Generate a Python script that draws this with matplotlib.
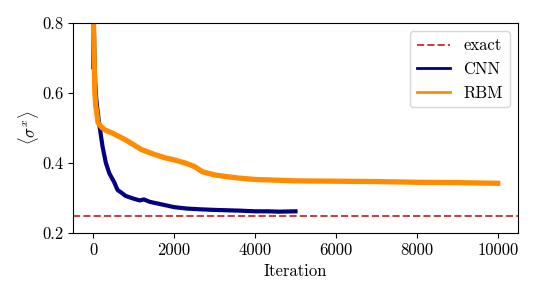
import matplotlib
matplotlib.use("Agg")
import matplotlib.pyplot as plt
from matplotlib.lines import Line2D

plt.rcParams['font.family'] = 'serif'
plt.rcParams['font.serif'] = ['cmr10']
plt.rcParams['mathtext.fontset'] = 'cm'
plt.rcParams['axes.formatter.use_mathtext'] = True
plt.rcParams['font.size'] = 12

exact_value = 0.2486

cnn_iter = [0, 5, 15, 30, 50, 70, 100, 150, 230, 313, 400, 519, 600, 700, 800, 1000, 1150, 1250, 1400, 1600, 1800, 2000, 2300, 2600, 3000, 3300, 3600, 4000, 4300, 4600, 5000]
cnn_val = [0.674, 0.86, 0.80, 0.70, 0.63, 0.59, 0.555, 0.51, 0.447, 0.40, 0.37, 0.345, 0.323, 0.315, 0.306, 0.298, 0.293, 0.296, 0.289, 0.284, 0.279, 0.274, 0.270, 0.268, 0.266, 0.265, 0.264, 0.262, 0.262, 0.261, 0.262]

rbm_iter = [0, 10, 25, 40, 60, 90, 120, 200, 300, 500, 800, 1000, 1200, 1500, 1800, 2000, 2300, 2500, 2700, 3000, 3300, 3600, 4000, 4500, 5000, 6000, 7000, 8000, 9000, 10000]
rbm_val = [0.95, 0.78, 0.68, 0.60, 0.565, 0.54, 0.515, 0.503, 0.494, 0.484, 0.466, 0.452, 0.438, 0.425, 0.414, 0.409, 0.399, 0.39, 0.375, 0.366, 0.361, 0.357, 0.353, 0.351, 0.349, 0.348, 0.347, 0.345, 0.344, 0.342]

fig = plt.figure(figsize=(5.38, 2.99), dpi=100)
ax = fig.add_axes([0.1357, 0.2207, 0.8271, 0.7023])

ax.axhline(exact_value, color='#d03a3a', linestyle='--', linewidth=1.4)
ax.plot(cnn_iter, cnn_val, color='navy', linewidth=3.0)
ax.plot(rbm_iter, rbm_val, color='darkorange', linewidth=3.8)

ax.set_xlim(-500, 10500)
ax.set_ylim(0.2, 0.8)
ax.set_yticks([0.2, 0.4, 0.6, 0.8])
ax.set_yticklabels(['0.2', '0.4', '0.6', '0.8'])
ax.set_xticks([0, 2000, 4000, 6000, 8000, 10000])
ax.set_xticklabels(['0', '2000', '4000', '6000', '8000', '10000'])
ax.set_xlabel('Iteration')
ax.set_ylabel(r'$\langle \sigma^x \rangle$', labelpad=1)

handles = [
    Line2D([], [], color='#d03a3a', linestyle='--', linewidth=1.4),
    Line2D([], [], color='navy', linewidth=2.0),
    Line2D([], [], color='darkorange', linewidth=2.0),
]
ax.legend(handles, ['exact', 'CNN', 'RBM'], loc='upper right', handlelength=2.0)

fig.savefig('out.png', dpi=100)
